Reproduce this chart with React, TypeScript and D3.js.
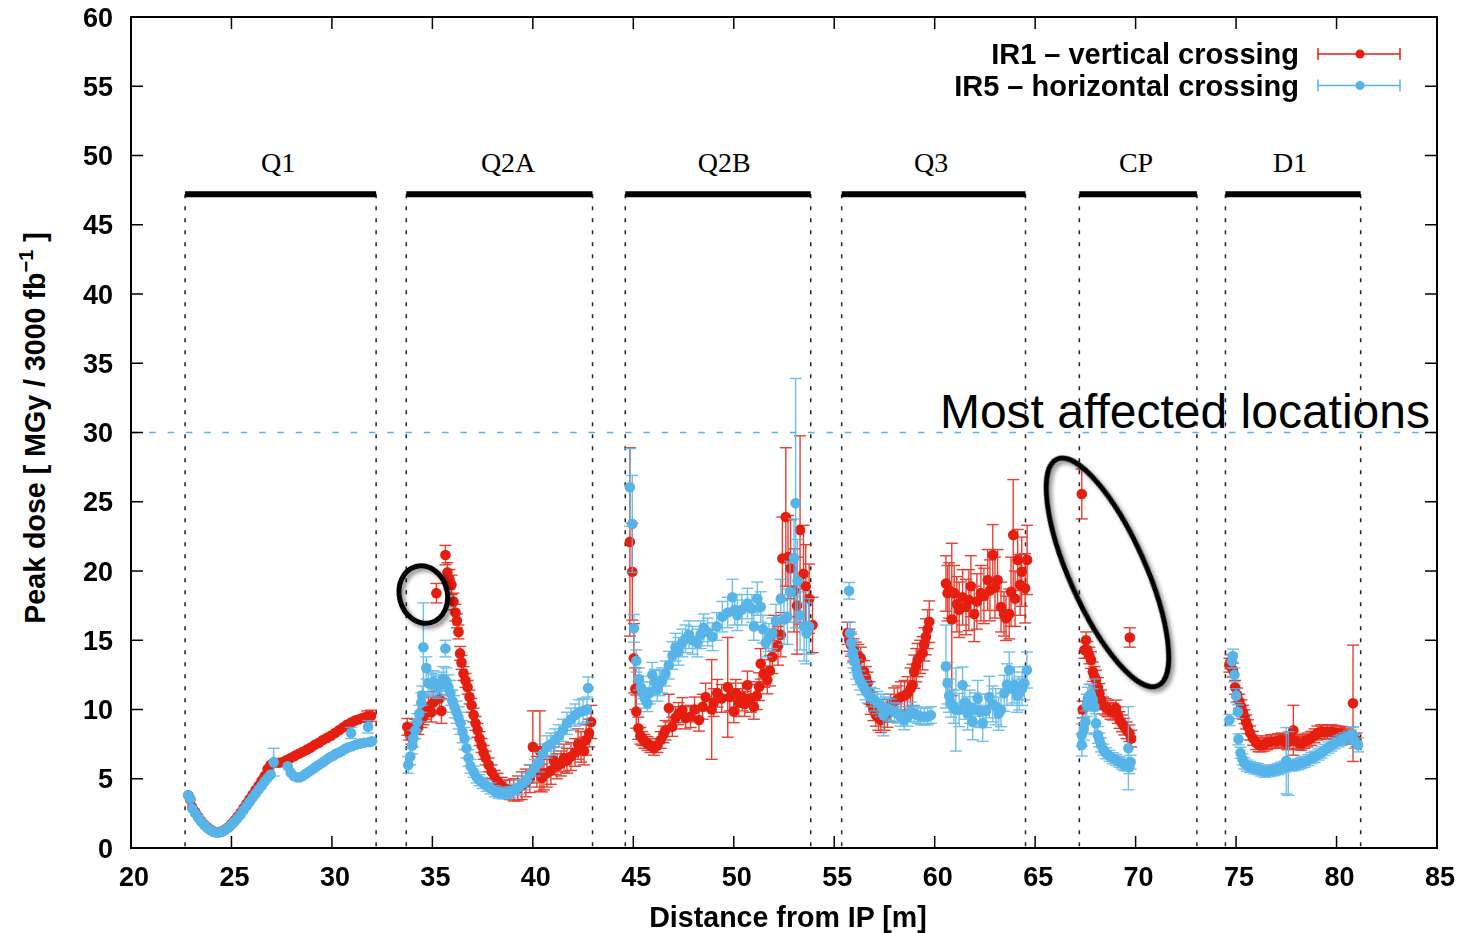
import { useEffect, useRef } from "react";
import * as d3 from "d3";

// [distance (m), peak dose (MGy / 3000 fb^-1), error]
const ir1Q1 = [
  [22.85, 3.8, 0.2], [22.95, 3.5, 0.2], [23.05, 2.95, 0.15], [23.2, 2.6, 0.15], [23.35, 2.25, 0.1],
  [23.5, 1.95, 0.1], [23.65, 1.7, 0.1], [23.8, 1.5, 0.1], [23.95, 1.33, 0.1], [24.1, 1.2, 0.1],
  [24.25, 1.14, 0.1], [24.4, 1.15, 0.1], [24.55, 1.22, 0.1], [24.7, 1.35, 0.1], [24.85, 1.52, 0.1],
  [25.0, 1.74, 0.1], [25.15, 1.98, 0.12], [25.3, 2.25, 0.15], [25.45, 2.55, 0.15], [25.6, 2.87, 0.2],
  [25.75, 3.2, 0.2], [25.9, 3.52, 0.2], [26.05, 3.85, 0.2], [26.2, 4.18, 0.2], [26.35, 4.5, 0.25],
  [26.5, 4.85, 0.25], [26.65, 5.2, 0.25], [26.8, 5.7, 0.3], [26.95, 6.0, 0.3], [27.1, 6.15, 0.3],
  [27.35, 6.15, 0.3], [27.55, 6.2, 0.3], [27.75, 6.35, 0.3], [27.95, 6.5, 0.3], [28.15, 6.65, 0.3],
  [28.35, 6.8, 0.3], [28.55, 6.95, 0.3], [28.75, 7.1, 0.3], [28.95, 7.25, 0.3], [29.15, 7.45, 0.3],
  [29.35, 7.6, 0.3], [29.55, 7.8, 0.3], [29.75, 7.95, 0.3], [29.95, 8.1, 0.3], [30.15, 8.3, 0.3],
  [30.35, 8.5, 0.3], [30.55, 8.7, 0.35], [30.75, 8.9, 0.35], [30.95, 9.05, 0.35], [31.15, 9.2, 0.35],
  [31.35, 9.3, 0.35], [31.55, 9.4, 0.35], [31.75, 9.5, 0.4], [31.95, 9.55, 0.4],
];
const ir5Q1 = [
  [22.85, 3.8, 0.15], [22.95, 3.55, 0.15], [23.05, 2.85, 0.1], [23.2, 2.5, 0.1], [23.35, 2.18, 0.1],
  [23.5, 1.9, 0.1], [23.65, 1.65, 0.1], [23.8, 1.45, 0.1], [23.95, 1.3, 0.1], [24.1, 1.18, 0.1],
  [24.25, 1.12, 0.1], [24.4, 1.13, 0.1], [24.55, 1.2, 0.1], [24.7, 1.32, 0.1], [24.85, 1.48, 0.1],
  [25.0, 1.68, 0.1], [25.15, 1.9, 0.1], [25.3, 2.15, 0.12], [25.45, 2.42, 0.12], [25.6, 2.72, 0.15],
  [25.75, 3.02, 0.15], [25.9, 3.32, 0.15], [26.05, 3.62, 0.15], [26.2, 3.92, 0.2], [26.35, 4.22, 0.2],
  [26.5, 4.5, 0.2], [26.65, 4.8, 0.2], [26.8, 5.05, 0.2], [26.95, 5.3, 0.2], [27.1, 6.2, 1.0],
  [27.8, 5.9, 0.25], [27.95, 5.45, 0.2], [28.1, 5.2, 0.2], [28.25, 5.1, 0.2], [28.4, 5.1, 0.2],
  [28.55, 5.2, 0.2], [28.7, 5.35, 0.2], [28.85, 5.5, 0.2], [29.0, 5.65, 0.2], [29.15, 5.8, 0.25],
  [29.3, 5.95, 0.25], [29.45, 6.1, 0.25], [29.6, 6.25, 0.25], [29.75, 6.4, 0.25], [29.9, 6.55, 0.25],
  [30.05, 6.65, 0.3], [30.2, 6.8, 0.3], [30.35, 6.9, 0.3], [30.5, 7.0, 0.3], [30.65, 7.15, 0.3],
  [30.8, 7.25, 0.3], [30.95, 8.3, 0.4], [31.0, 7.35, 0.3], [31.2, 7.45, 0.3], [31.4, 7.55, 0.3],
  [31.6, 7.6, 0.35], [31.8, 8.75, 0.45], [31.85, 7.65, 0.35], [32.0, 7.7, 0.35],
];
const ir1Q2A = [
  [33.75, 8.75, 0.6], [33.85, 8.3, 0.5], [33.95, 8.0, 0.5], [34.05, 8.4, 0.5], [34.15, 8.8, 0.5],
  [34.3, 8.7, 0.5], [34.45, 9.3, 0.6], [34.55, 9.5, 0.6], [34.7, 9.9, 0.6], [34.8, 10.2, 0.7],
  [34.95, 9.8, 0.7], [35.05, 10.5, 0.8], [35.2, 18.4, 0.7], [35.35, 10.8, 0.9], [35.45, 9.9, 0.9],
  [35.65, 21.15, 0.7], [35.75, 19.9, 0.7], [35.85, 19.4, 0.7], [35.95, 19.0, 0.7], [36.05, 17.8, 0.6],
  [36.15, 17.0, 0.6], [36.22, 16.4, 0.5], [36.3, 15.6, 0.5], [36.38, 14.05, 0.5], [36.45, 13.4, 0.5],
  [36.55, 12.6, 0.5], [36.65, 12.1, 0.5], [36.75, 11.6, 0.5], [36.85, 10.9, 0.5], [36.95, 10.3, 0.5],
  [37.05, 9.6, 0.5], [37.15, 9.0, 0.5], [37.25, 8.5, 0.5], [37.35, 7.9, 0.5], [37.45, 7.4, 0.5],
  [37.55, 6.9, 0.5], [37.65, 6.5, 0.5], [37.8, 6.0, 0.5], [37.95, 5.5, 0.5], [38.1, 5.1, 0.5],
  [38.25, 4.8, 0.6], [38.45, 4.5, 0.6], [38.65, 4.3, 0.6], [38.85, 4.2, 0.7], [39.05, 4.2, 0.8],
  [39.25, 4.3, 0.9], [39.45, 4.5, 1.0], [39.65, 4.7, 1.0], [39.85, 5.0, 1.0], [40.0, 7.3, 2.6],
  [40.2, 5.5, 1.1], [40.35, 7.0, 2.9], [40.45, 5.05, 1.0], [40.55, 5.4, 1.2], [40.7, 5.4, 1.0],
  [40.9, 5.6, 1.0], [41.05, 6.3, 1.0], [41.2, 5.9, 0.9], [41.4, 6.1, 0.9], [41.55, 6.5, 1.0],
  [41.7, 6.3, 0.9], [41.9, 6.6, 1.0], [42.1, 6.9, 1.0], [42.25, 7.5, 1.1], [42.4, 7.3, 1.1],
  [42.55, 7.0, 1.0], [42.65, 7.8, 1.1], [42.8, 8.3, 1.0], [42.9, 9.1, 1.2],
];
const ir5Q2A = [
  [33.8, 6.0, 0.6], [33.9, 6.6, 0.6], [34.0, 7.4, 0.6], [34.05, 7.9, 0.6], [34.15, 8.5, 0.6],
  [34.25, 9.1, 0.6], [34.35, 9.7, 0.6], [34.45, 10.5, 0.7], [34.5, 11.0, 0.7], [34.55, 14.5, 3.2],
  [34.7, 13.0, 0.8], [34.8, 11.9, 0.8], [34.95, 11.8, 0.8], [35.05, 12.0, 0.8], [35.15, 11.7, 0.8],
  [35.3, 11.6, 0.8], [35.45, 11.9, 0.8], [35.55, 12.2, 0.9], [35.65, 14.4, 0.6], [35.7, 12.0, 1.0],
  [35.8, 11.6, 0.9], [35.9, 11.2, 0.9], [36.0, 10.6, 0.8], [36.1, 10.2, 0.8], [36.2, 9.8, 0.8],
  [36.3, 9.4, 0.8], [36.4, 9.0, 0.8], [36.5, 8.4, 0.8], [36.6, 7.9, 0.8], [36.7, 7.2, 0.7],
  [36.8, 6.5, 0.6], [36.9, 5.9, 0.5], [37.05, 5.5, 0.4], [37.2, 5.1, 0.4], [37.35, 4.9, 0.4],
  [37.5, 4.7, 0.4], [37.7, 4.5, 0.4], [37.9, 4.3, 0.4], [38.1, 4.1, 0.4], [38.3, 4.0, 0.4],
  [38.5, 3.95, 0.4], [38.7, 3.95, 0.4], [38.9, 4.05, 0.4], [39.1, 4.2, 0.4], [39.3, 4.4, 0.5],
  [39.5, 4.7, 0.5], [39.7, 4.9, 0.5], [39.9, 5.4, 0.6], [40.1, 5.8, 0.6], [40.3, 6.2, 0.7],
  [40.5, 6.8, 0.7], [40.7, 7.3, 0.8], [40.9, 7.5, 0.8], [41.1, 7.8, 0.8], [41.3, 8.1, 0.8],
  [41.5, 8.5, 0.8], [41.7, 9.0, 0.8], [41.9, 9.3, 0.8], [42.1, 9.6, 0.8], [42.3, 9.8, 0.9],
  [42.5, 9.9, 0.9], [42.7, 10.0, 0.9], [42.75, 11.55, 0.8],
];
const ir1Q2B = [
  [44.83, 22.1, 6.8], [44.95, 19.95, 3.5], [45.03, 13.7, 2.5], [45.1, 11.5, 1.5], [45.15, 9.85, 1.2],
  [45.25, 8.65, 0.8], [45.35, 8.1, 0.6], [45.45, 7.9, 0.5], [45.55, 7.7, 0.5], [45.7, 7.55, 0.5],
  [45.85, 7.4, 0.5], [46.03, 7.2, 0.5], [46.2, 7.4, 0.5], [46.36, 7.8, 0.6], [46.5, 8.2, 0.6],
  [46.6, 8.5, 0.7], [46.77, 10.1, 1.0], [46.94, 8.76, 0.7], [47.1, 9.4, 0.8], [47.25, 9.7, 0.8],
  [47.44, 9.96, 0.9], [47.6, 9.4, 0.8], [47.85, 9.5, 0.8], [48.05, 10.0, 0.9], [48.27, 9.24, 0.8],
  [48.45, 10.2, 0.9], [48.6, 10.9, 1.0], [48.9, 10.0, 3.6], [49.0, 10.5, 1.0], [49.18, 11.17, 1.0],
  [49.4, 10.8, 1.0], [49.7, 11.6, 3.6], [49.8, 10.9, 1.0], [50.0, 9.85, 0.8], [50.1, 11.17, 1.0],
  [50.25, 10.5, 1.0], [50.43, 10.9, 1.0], [50.55, 10.4, 0.9], [50.68, 11.77, 1.0], [50.85, 10.8, 1.0],
  [51.0, 10.2, 0.9], [51.15, 11.0, 1.0], [51.26, 11.65, 1.0], [51.34, 13.3, 1.1], [51.5, 12.6, 1.0],
  [51.67, 12.13, 1.0], [51.8, 12.8, 1.1], [51.92, 13.8, 1.2], [52.0, 15.5, 1.3], [52.2, 14.6, 1.4],
  [52.34, 15.4, 1.6], [52.42, 20.9, 3.0], [52.59, 23.9, 5.0], [52.7, 21.0, 3.0], [52.83, 20.2, 3.5],
  [53.0, 18.6, 3.0], [53.15, 17.5, 3.5], [53.3, 22.96, 6.8], [53.47, 19.8, 3.5], [53.58, 18.9, 3.0],
  [53.75, 18.0, 2.5], [53.92, 16.1, 2.0],
];
const ir5Q2B = [
  [44.83, 26.04, 2.8], [44.95, 23.4, 3.5], [45.03, 15.86, 1.0], [45.15, 13.5, 0.8], [45.28, 12.2, 0.8],
  [45.38, 11.6, 0.8], [45.45, 11.2, 0.8], [45.58, 10.8, 0.7], [45.7, 10.45, 0.6], [45.82, 11.2, 0.8],
  [45.94, 12.5, 0.9], [46.07, 12.0, 0.9], [46.19, 11.5, 0.9], [46.3, 11.9, 0.9], [46.44, 12.1, 0.9],
  [46.6, 12.6, 0.9], [46.77, 13.2, 1.0], [46.95, 13.9, 1.0], [47.1, 14.5, 1.0], [47.25, 14.2, 1.0],
  [47.44, 14.8, 1.0], [47.6, 15.1, 1.0], [47.77, 15.4, 1.0], [47.95, 15.0, 1.0], [48.19, 14.8, 1.0],
  [48.35, 15.4, 1.0], [48.5, 15.9, 1.0], [48.7, 15.6, 1.0], [48.94, 15.25, 1.0], [49.15, 16.0, 1.0],
  [49.43, 16.7, 1.1], [49.7, 17.0, 1.1], [49.93, 18.1, 1.3], [50.05, 17.2, 1.1], [50.18, 16.8, 1.1],
  [50.4, 17.2, 1.1], [50.68, 17.65, 1.1], [50.9, 17.3, 1.0], [51.0, 16.0, 1.0], [51.17, 18.0, 1.2],
  [51.34, 17.4, 1.1], [51.45, 15.8, 1.0], [51.59, 14.8, 1.0], [51.75, 15.2, 1.0], [51.92, 15.5, 1.1],
  [52.1, 16.4, 1.2], [52.34, 18.0, 1.4], [52.5, 16.5, 1.8], [52.67, 16.7, 2.0], [52.8, 18.5, 2.2],
  [53.0, 20.96, 2.8], [53.08, 24.9, 9.0], [53.17, 19.28, 3.0], [53.3, 16.8, 2.5], [53.5, 16.0, 2.5],
  [53.62, 15.5, 2.2], [53.75, 16.0, 2.0],
];
const ir1Q3 = [
  [55.66, 15.5, 0.8], [55.75, 15.0, 0.8], [55.83, 14.65, 0.8], [55.95, 14.3, 0.8], [56.07, 14.06, 0.8],
  [56.2, 13.9, 0.8], [56.32, 13.7, 0.8], [56.49, 12.73, 0.8], [56.58, 12.3, 0.8], [56.66, 11.9, 0.8],
  [56.75, 11.2, 0.8], [56.82, 10.45, 0.8], [56.95, 10.0, 0.8], [57.07, 9.6, 0.8], [57.2, 9.4, 0.9],
  [57.32, 9.24, 0.9], [57.5, 9.5, 1.0], [57.65, 9.72, 1.0], [57.8, 10.1, 1.0], [57.98, 10.56, 1.0],
  [58.15, 10.7, 1.0], [58.32, 10.9, 1.1], [58.5, 11.0, 1.1], [58.65, 11.17, 1.2], [58.8, 11.5, 1.5],
  [58.9, 11.77, 1.5], [58.98, 12.73, 1.2], [59.08, 13.2, 1.2], [59.15, 13.57, 1.2], [59.28, 13.8, 1.2],
  [59.4, 14.06, 1.2], [59.48, 14.7, 1.2], [59.56, 15.25, 1.3], [59.65, 15.8, 1.4], [59.73, 16.34, 1.5],
  [60.56, 19.1, 2.0], [60.64, 18.4, 2.0], [60.72, 18.6, 2.0], [60.85, 16.5, 5.5], [60.97, 18.4, 2.0],
  [61.1, 17.6, 2.0], [61.22, 17.2, 2.0], [61.39, 18.1, 2.0], [61.56, 17.4, 2.0], [61.7, 17.9, 2.2],
  [61.8, 18.9, 2.2], [61.97, 16.9, 2.0], [62.1, 17.8, 2.0], [62.3, 18.4, 2.0], [62.45, 18.2, 2.0],
  [62.64, 19.35, 2.2], [62.75, 18.6, 2.2], [62.89, 21.15, 2.2], [63.0, 18.8, 2.2], [63.13, 19.35, 2.2],
  [63.3, 17.4, 1.8], [63.45, 16.9, 1.6], [63.55, 16.58, 1.6], [63.71, 16.9, 1.8], [63.8, 18.5, 2.5],
  [63.91, 22.6, 4.0], [64.0, 18.0, 2.0], [64.13, 20.8, 2.2], [64.25, 19.0, 2.2], [64.33, 19.95, 2.5],
  [64.5, 18.75, 2.5], [64.6, 20.8, 2.5],
];
const ir5Q3 = [
  [55.74, 18.57, 0.6], [55.79, 15.5, 0.8], [55.85, 14.8, 0.8], [55.91, 14.17, 0.8], [55.96, 13.8, 0.8],
  [56.02, 13.45, 0.8], [56.1, 12.9, 0.7], [56.16, 12.5, 0.7], [56.28, 12.1, 0.7], [56.41, 11.77, 0.7],
  [56.55, 11.4, 0.7], [56.66, 11.17, 0.7], [56.82, 10.9, 0.7], [56.99, 10.7, 0.8], [57.15, 10.5, 0.8],
  [57.32, 10.3, 0.8], [57.45, 9.6, 1.5], [57.57, 10.1, 0.8], [57.7, 10.0, 0.8], [57.82, 9.96, 0.8],
  [58.0, 9.8, 0.7], [58.15, 9.72, 0.7], [58.3, 9.5, 0.7], [58.48, 9.24, 0.7], [58.65, 9.5, 0.7],
  [58.81, 9.84, 0.7], [58.98, 9.7, 0.6], [59.15, 9.6, 0.6], [59.3, 9.5, 0.6], [59.48, 9.48, 0.6],
  [59.65, 9.5, 0.6], [59.81, 9.6, 0.6], [60.56, 13.1, 3.0], [60.64, 11.9, 1.5], [60.72, 11.0, 1.2],
  [60.81, 10.45, 1.0], [60.95, 10.2, 1.2], [61.05, 10.0, 3.0], [61.22, 9.96, 1.2], [61.39, 11.77, 1.3],
  [61.5, 10.5, 1.2], [61.64, 9.72, 1.2], [61.75, 10.2, 1.2], [61.89, 9.12, 1.3], [62.0, 10.0, 1.2],
  [62.14, 10.8, 1.3], [62.25, 9.9, 1.2], [62.39, 9.0, 1.3], [62.55, 9.9, 1.2], [62.72, 10.9, 1.5],
  [62.88, 10.4, 1.3], [63.05, 10.2, 1.3], [63.18, 9.7, 1.2], [63.3, 9.96, 1.2], [63.46, 11.17, 1.3],
  [63.6, 11.8, 1.5], [63.71, 12.85, 1.3], [63.85, 11.5, 1.2], [63.96, 11.77, 1.3], [64.1, 11.0, 1.2],
  [64.21, 11.17, 1.2], [64.35, 11.5, 1.2], [64.46, 11.9, 1.2], [64.59, 12.85, 1.3],
];
const ir1CP = [
  [67.32, 25.56, 1.8], [67.37, 10.0, 0.6], [67.45, 14.3, 0.6], [67.53, 15.0, 0.6], [67.6, 14.3, 0.6],
  [67.7, 13.9, 0.6], [67.78, 13.57, 0.6], [67.87, 12.73, 0.7], [67.95, 12.4, 0.7], [68.03, 12.13, 0.7],
  [68.12, 11.6, 0.7], [68.2, 11.17, 0.7], [68.28, 10.7, 0.7], [68.37, 10.3, 0.6], [68.5, 10.2, 0.6],
  [68.61, 10.08, 0.6], [68.75, 9.9, 0.6], [68.86, 9.84, 0.6], [69.03, 10.08, 0.6], [69.12, 9.6, 0.6],
  [69.2, 9.24, 0.6], [69.32, 9.0, 0.6], [69.44, 8.76, 0.6], [69.55, 8.5, 0.6], [69.69, 8.28, 0.6],
  [69.71, 15.2, 0.7], [69.78, 7.9, 0.6],
];
const ir5CP = [
  [67.32, 7.44, 0.8], [67.32, 8.16, 0.8], [67.42, 8.6, 0.8], [67.5, 9.1, 0.8], [67.57, 10.3, 0.8],
  [67.62, 10.8, 0.8], [67.7, 11.0, 0.8], [67.78, 11.05, 0.8], [67.87, 10.7, 0.8], [67.95, 10.2, 2.0],
  [68.03, 9.0, 0.7], [68.12, 8.16, 0.6], [68.2, 7.8, 0.5], [68.28, 7.44, 0.5], [68.4, 7.1, 0.4],
  [68.53, 6.84, 0.4], [68.7, 6.65, 0.4], [68.86, 6.48, 0.4], [69.03, 6.35, 0.4], [69.2, 6.23, 0.4],
  [69.32, 6.1, 0.4], [69.44, 6.0, 0.4], [69.56, 5.95, 0.4], [69.64, 7.2, 3.0], [69.69, 5.87, 0.5],
  [69.75, 6.2, 0.5],
];
const ir1D1 = [
  [74.67, 13.2, 0.5], [74.72, 13.45, 0.5], [74.84, 12.85, 0.5], [74.95, 11.6, 0.5], [75.06, 11.05, 0.5],
  [75.16, 10.6, 0.5], [75.26, 10.2, 0.5], [75.34, 9.8, 0.5], [75.42, 9.48, 0.5], [75.5, 9.1, 0.5],
  [75.59, 8.76, 0.5], [75.7, 8.3, 0.5], [75.84, 7.92, 0.5], [76.0, 7.6, 0.5], [76.12, 7.45, 0.5],
  [76.25, 7.44, 0.5], [76.4, 7.5, 0.5], [76.55, 7.6, 0.5], [76.75, 7.68, 0.5], [76.95, 7.7, 0.5],
  [77.1, 7.75, 0.5], [77.25, 7.8, 0.5], [77.4, 7.7, 0.5], [77.55, 7.6, 0.5], [77.7, 7.9, 0.5],
  [77.85, 8.5, 1.8], [78.0, 7.7, 0.5], [78.12, 7.6, 0.5], [78.25, 7.56, 0.5], [78.4, 7.7, 0.5],
  [78.55, 7.8, 0.5], [78.74, 7.92, 0.5], [78.9, 8.1, 0.5], [79.05, 8.3, 0.5], [79.24, 8.4, 0.5],
  [79.4, 8.35, 0.5], [79.55, 8.4, 0.5], [79.74, 8.4, 0.5], [79.9, 8.35, 0.5], [80.05, 8.3, 0.5],
  [80.24, 8.28, 0.5], [80.4, 8.2, 0.5], [80.55, 8.1, 0.5], [80.7, 8.0, 0.5], [80.82, 10.45, 4.2],
  [80.99, 7.8, 0.5],
];
const ir5D1 = [
  [74.67, 9.24, 0.4], [74.8, 13.5, 0.5], [74.84, 13.86, 0.5], [74.92, 12.5, 0.5], [75.0, 11.0, 0.5],
  [75.09, 9.84, 0.5], [75.12, 7.85, 0.4], [75.22, 6.88, 0.4], [75.32, 6.4, 0.4], [75.42, 6.11, 0.4],
  [75.55, 5.95, 0.4], [75.7, 5.85, 0.4], [75.92, 5.75, 0.4], [76.1, 5.7, 0.4], [76.25, 5.6, 0.4],
  [76.42, 5.51, 0.4], [76.6, 5.55, 0.4], [76.75, 5.6, 0.4], [76.92, 5.63, 0.4], [77.1, 5.7, 0.4],
  [77.25, 5.8, 0.4], [77.41, 5.87, 0.4], [77.5, 6.3, 2.4], [77.6, 6.1, 2.3], [77.75, 5.95, 0.4],
  [77.91, 6.0, 0.4], [78.1, 6.05, 0.4], [78.25, 6.15, 0.4], [78.41, 6.23, 0.4], [78.6, 6.35, 0.4],
  [78.75, 6.5, 0.4], [78.91, 6.59, 0.4], [79.1, 6.75, 0.4], [79.25, 6.9, 0.4], [79.41, 7.08, 0.4],
  [79.6, 7.25, 0.4], [79.75, 7.4, 0.4], [79.9, 7.56, 0.4], [80.1, 7.7, 0.4], [80.25, 7.8, 0.4],
  [80.4, 7.92, 0.4], [80.6, 8.05, 0.4], [80.75, 8.2, 0.5], [80.82, 8.16, 0.6], [80.9, 7.7, 0.5],
  [81.07, 7.44, 0.5],
];

const magnetNames = ["Q1", "Q2A", "Q2B", "Q3", "CP", "D1"];
const magnetStart = [22.69, 33.7, 44.6, 55.37, 67.2, 74.47];
const magnetEnd = [32.2, 42.97, 53.83, 64.52, 73.05, 81.2];
const magnetLabelAt = [27.32, 38.77, 49.52, 59.82, 70.02, 77.69];

const xTicks = d3.range(20, 86, 5);
const yTicks = d3.range(0, 61, 5);

const RED = "#e51e10";
const BLUE = "#56b4e9";
const SANS = "'Liberation Sans', Arial, Helvetica, sans-serif";

export default function App() {
  const ref = useRef(null);

  useEffect(() => {
    document.body.style.margin = "0";
    const el = ref.current;
    if (!el) return;
    const W = 1466, H = 933;
    const svg = d3.select(el);
    svg.selectAll("*").remove();
    svg.attr("width", W).attr("height", H).attr("viewBox", `0 0 ${W} ${H}`);

    const x = d3.scaleLinear().domain([20, 85]).range([131, 1437]);
    const y = d3.scaleLinear().domain([0, 60]).range([848, 17]);
    const [x0, x1] = x.range();
    const [y0, y1] = y.range();

    const defs = svg.append("defs");
    defs.append("filter").attr("id", "shadow")
      .attr("x", "-20%").attr("y", "-20%").attr("width", "140%").attr("height", "140%")
      .append("feDropShadow")
      .attr("dx", 3).attr("dy", 3).attr("stdDeviation", 2)
      .attr("flood-color", "#000").attr("flood-opacity", 0.45);

    // 30 MGy reference line
    svg.append("line")
      .attr("x1", x0).attr("x2", x1).attr("y1", y(30)).attr("y2", y(30))
      .attr("stroke", BLUE).attr("stroke-width", 1.5).attr("stroke-dasharray", "6.5,11.8");

    svg.append("text")
      .attr("x", 1430).attr("y", 428).attr("text-anchor", "end")
      .style("font-family", SANS).style("font-size", "48px").attr("fill", "#000")
      .text("Most affected locations");

    // magnet extents
    const mg = svg.append("g");
    magnetNames.forEach((name, i) => {
      const a = x(magnetStart[i]), b = x(magnetEnd[i]);
      [a, b].forEach((px) => {
        mg.append("line")
          .attr("x1", px).attr("x2", px).attr("y1", y(47.2)).attr("y2", y0)
          .attr("stroke", "#222").attr("stroke-width", 1.5).attr("stroke-dasharray", "4,8");
      });
      mg.append("line")
        .attr("x1", a).attr("x2", b).attr("y1", y(47.2)).attr("y2", y(47.2))
        .attr("stroke", "#000").attr("stroke-width", 6);
      mg.append("text")
        .attr("x", x(magnetLabelAt[i])).attr("y", y(48.8)).attr("text-anchor", "middle")
        .style("font-family", "'Liberation Serif', 'Times New Roman', serif").style("font-size", "28px")
        .text(name);
    });

    const drawSeries = (segments, color) => {
      const pts = segments.flat();
      const g = svg.append("g");
      const eb = g.append("g").attr("stroke", color).attr("stroke-width", 1.4).attr("opacity", 0.85);
      pts.forEach(([d, v, e]) => {
        const px = x(d);
        eb.append("line").attr("x1", px).attr("x2", px).attr("y1", y(v + e)).attr("y2", y(Math.max(0, v - e)));
        if (e > 0.35) {
          eb.append("line").attr("x1", px - 6).attr("x2", px + 6).attr("y1", y(v + e)).attr("y2", y(v + e));
          eb.append("line").attr("x1", px - 6).attr("x2", px + 6).attr("y1", y(v - e)).attr("y2", y(v - e));
        }
      });
      g.append("g").selectAll("circle").data(pts).join("circle")
        .attr("cx", (d) => x(d[0])).attr("cy", (d) => y(d[1])).attr("r", 5.3)
        .attr("fill", color);
    };
    drawSeries([ir1Q1, ir1Q2A, ir1Q2B, ir1Q3, ir1CP, ir1D1], RED);
    drawSeries([ir5Q1, ir5Q2A, ir5Q2B, ir5Q3, ir5CP, ir5D1], BLUE);

    // annotation ellipses
    const an = svg.append("g").attr("filter", "url(#shadow)")
      .attr("fill", "none").attr("stroke", "#000").attr("stroke-width", 5);
    an.append("ellipse")
      .attr("transform", `translate(${x(34.55)},${y(18.3)}) rotate(-15)`)
      .attr("rx", 24).attr("ry", 29);
    an.append("ellipse")
      .attr("transform", `translate(${x(68.6)},${y(19.9)}) rotate(-24)`)
      .attr("rx", 38).attr("ry", 124);

    // frame and ticks
    svg.append("rect")
      .attr("x", x0).attr("y", y1).attr("width", x1 - x0).attr("height", y0 - y1)
      .attr("fill", "none").attr("stroke", "#000").attr("stroke-width", 2);
    const tk = svg.append("g").attr("stroke", "#000").attr("stroke-width", 1.5);
    xTicks.forEach((t) => {
      tk.append("line").attr("x1", x(t)).attr("x2", x(t)).attr("y1", y0).attr("y2", y0 - 12);
      tk.append("line").attr("x1", x(t)).attr("x2", x(t)).attr("y1", y1).attr("y2", y1 + 12);
    });
    yTicks.forEach((t) => {
      tk.append("line").attr("x1", x0).attr("x2", x0 + 12).attr("y1", y(t)).attr("y2", y(t));
      tk.append("line").attr("x1", x1).attr("x2", x1 - 12).attr("y1", y(t)).attr("y2", y(t));
    });

    const lab = svg.append("g").style("font-family", SANS).style("font-weight", "bold").style("font-size", "27px");
    xTicks.forEach((t) => {
      lab.append("text").attr("x", x(t) + 3).attr("y", 886).attr("text-anchor", "middle").text(t);
    });
    yTicks.forEach((t) => {
      lab.append("text").attr("x", 113).attr("y", y(t)).attr("dy", "0.36em").attr("text-anchor", "end").text(t);
    });
    lab.append("text").attr("x", 788).attr("y", 927).attr("text-anchor", "middle")
      .style("font-size", "28.6px").text("Distance from IP [m]");
    const yl = lab.append("text").attr("transform", "translate(45,428) rotate(-90)").attr("text-anchor", "middle")
      .style("font-size", "28.6px");
    yl.append("tspan").text("Peak dose [ MGy / 3000 fb");
    yl.append("tspan").attr("dy", -12).style("font-size", "20px").text("\u22121");
    yl.append("tspan").attr("dy", 12).text(" ]");

    // legend
    const leg = svg.append("g");
    [["IR1 \u2013 vertical crossing", RED, 54], ["IR5 \u2013 horizontal crossing", BLUE, 85.5]].forEach(([t, c, ly]) => {
      leg.append("text").attr("x", 1299).attr("y", ly + 10).attr("text-anchor", "end")
        .style("font-family", SANS).style("font-weight", "bold").style("font-size", "29px").text(t);
      const s = leg.append("g").attr("stroke", c).attr("stroke-width", 1.5);
      s.append("line").attr("x1", 1318).attr("x2", 1400).attr("y1", ly).attr("y2", ly);
      s.append("line").attr("x1", 1318).attr("x2", 1318).attr("y1", ly - 6).attr("y2", ly + 6);
      s.append("line").attr("x1", 1400).attr("x2", 1400).attr("y1", ly - 6).attr("y2", ly + 6);
      leg.append("circle").attr("cx", 1360).attr("cy", ly).attr("r", 4.5).attr("fill", c);
    });
  }, []);

  return <svg ref={ref} style={{ display: "block", background: "#fff" }} />;
}
